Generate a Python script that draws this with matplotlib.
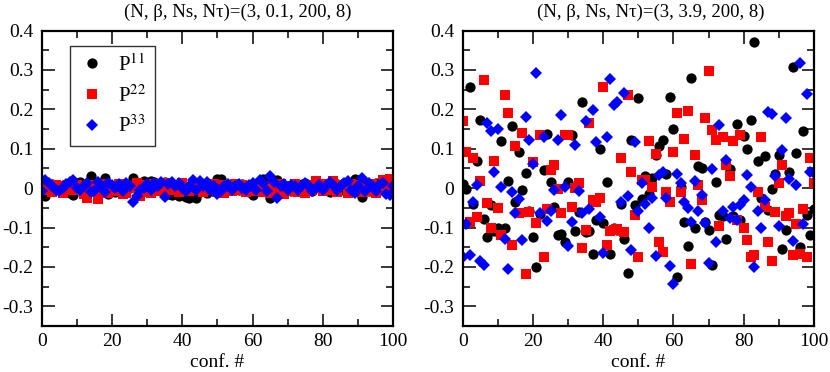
import matplotlib
matplotlib.use('Agg')
import matplotlib.pyplot as plt
import numpy as np

plt.rcParams['font.family'] = ['Liberation Serif', 'DejaVu Serif']
plt.rcParams['mathtext.fontset'] = 'stix'
plt.rcParams['axes.unicode_minus'] = False

conf = np.arange(0, 101)

# beta = 0.1
p11_a = [-0.01, -0.02, 0.005, 0.01, 0.0, -0.005, 0.008, -0.01, -0.012, -0.018,
         0.005, 0.015, -0.005, 0.01, 0.03, 0.01, -0.008, 0.005, 0.025, -0.015,
         0.005, -0.01, 0.008, -0.005, 0.01, 0.0, 0.025, 0.01, -0.005, 0.018,
         0.012, 0.018, 0.015, -0.005, 0.01, 0.015, -0.015, -0.018, -0.012, -0.02,
         -0.015, -0.022, -0.025, -0.018, -0.025, -0.01, 0.005, -0.012, 0.01, 0.012,
         0.022, 0.024, 0.005, -0.005, 0.008, 0.002, -0.005, 0.01, 0.005, -0.01,
         -0.018, 0.01, 0.015, 0.022, 0.01, -0.025, 0.005, 0.02, 0.0, -0.005,
         0.005, -0.008, 0.005, 0.01, -0.005, 0.012, 0.002, -0.008, 0.005, 0.0,
         -0.005, 0.008, -0.01, 0.005, 0.01, -0.005, 0.012, 0.008, -0.01, 0.022,
         0.015, -0.022, 0.005, -0.008, 0.01, 0.012, -0.005, 0.005, 0.01, -0.01,
         0.002]
p22_a = [0.01, -0.005, 0.0, -0.01, 0.008, 0.005, -0.012, 0.002, 0.01, -0.005,
         0.008, 0.0, -0.015, -0.025, -0.01, 0.008, -0.027, -0.005, 0.01, -0.012,
         0.005, -0.008, 0.01, -0.015, -0.012, 0.005, 0.0, 0.012, -0.02, -0.01,
         0.008, -0.012, 0.01, -0.008, 0.005, -0.01, 0.012, -0.005, 0.008, -0.01,
         0.012, 0.0, -0.008, 0.01, -0.005, 0.008, -0.01, 0.005, -0.005, 0.01,
         -0.01, 0.008, -0.012, 0.005, -0.008, 0.01, -0.005, 0.008, -0.01, 0.005,
         0.0, -0.008, 0.01, -0.01, 0.005, -0.012, 0.008, -0.005, 0.01, -0.015,
         0.005, -0.008, 0.01, -0.01, 0.005, -0.012, 0.008, -0.005, 0.018, 0.0,
         -0.008, 0.01, -0.005, 0.018, -0.01, 0.008, 0.005, -0.012, 0.01, -0.005,
         0.008, -0.01, 0.012, -0.008, 0.01, -0.012, 0.005, 0.02, -0.005, 0.022,
         0.01]
p33_a = [-0.008, 0.02, 0.012, 0.005, -0.005, -0.008, 0.0, 0.01, 0.015, 0.02,
         0.0, -0.005, 0.005, 0.012, -0.01, -0.008, 0.015, 0.005, -0.01, 0.012,
         0.008, 0.0, 0.01, -0.008, 0.012, 0.005, -0.035, -0.02, -0.005, 0.0,
         0.01, -0.005, 0.012, 0.005, 0.015, -0.022, 0.01, 0.015, 0.005, 0.012,
         0.0, -0.008, 0.005, 0.02, -0.005, 0.018, 0.005, 0.015, -0.005, 0.005,
         -0.015, -0.008, 0.005, 0.01, -0.005, 0.005, 0.01, 0.0, -0.005, 0.008,
         0.012, -0.005, 0.02, 0.012, -0.008, 0.03, 0.015, -0.025, 0.005, 0.01,
         -0.005, 0.008, 0.005, -0.005, 0.008, 0.012, 0.005, -0.008, 0.0, 0.008,
         -0.005, 0.005, 0.015, 0.008, -0.005, 0.005, 0.012, 0.018, -0.005, -0.012,
         0.005, 0.025, -0.008, 0.012, 0.005, -0.008, 0.008, 0.012, -0.015, -0.018,
         0.005]

# beta = 3.9
p11_b = [0.01, -0.003, 0.257, -0.04, 0.07, 0.172, -0.078, -0.123, -0.044, -0.11,
         -0.1, 0.12, -0.1, 0.018, 0.158, -0.035, 0.092, -0.004, 0.038, -0.057,
         -0.125, -0.2, -0.065, 0.047, 0.138, 0.015, -0.047, -0.12, -0.117, -0.138,
         0.015, 0.136, -0.108, -0.06, 0.22, -0.112, -0.11, -0.166, -0.08, 0.1,
         -0.089, 0.015, -0.166, -0.1, -0.106, -0.04, -0.13, -0.216, 0.122, -0.042,
         0.228, -0.028, 0.031, -0.015, 0.025, 0.085, 0.108, 0.123, 0.036, 0.231,
         0.15, -0.225, 0.004, -0.086, -0.148, 0.28, -0.1, 0.055, 0.051, -0.085,
         -0.106, -0.195, 0.016, -0.068, -0.071, -0.13, 0.049, -0.07, 0.164, -0.08,
         0.133, 0.1, 0.172, 0.371, 0.068, -0.024, 0.082, -0.055, -0.003, 0.036,
         0.085, -0.155, -0.106, 0.042, 0.307, 0.089, -0.15, 0.145, -0.068, -0.119,
         -0.053]
p22_b = [0.17, 0.093, -0.085, 0.076, -0.072, 0.017, 0.274, -0.038, -0.1, 0.07,
         -0.051, -0.12, 0.237, 0.192, -0.144, 0.106, -0.064, 0.14, -0.218, -0.06,
         0.066, -0.089, 0.136, -0.175, -0.053, 0.045, 0.058, -0.003, -0.064, 0.136,
         0.136, -0.048, 0.0, 0.014, -0.153, -0.106, 0.165, -0.03, -0.034, -0.024,
         0.257, -0.144, -0.108, -0.106, -0.104, 0.076, -0.112, 0.236, 0.041, -0.068,
         -0.174, 0.02, 0.021, 0.119, 0.004, 0.086, -0.136, -0.161, -0.011, -0.034,
         0.093, 0.191, -0.011, 0.125, 0.197, -0.193, 0.083, 0.008, -0.031, 0.177,
         0.297, 0.147, 0.123, -0.096, 0.131, 0.058, 0.03, 0.119, -0.08, 0.136,
         -0.1, -0.131, -0.174, -0.17, -0.011, 0.13, -0.048, -0.136, -0.185, -0.061,
         0.014, 0.059, -0.07, -0.062, -0.17, -0.092, -0.167, -0.053, -0.174, 0.076,
         0.014]
p33_b = [-0.175, -0.09, -0.17, -0.034, 0.008, -0.185, -0.195, 0.165, 0.144, 0.042,
         0.151, 0.002, -0.13, -0.206, -0.011, -0.064, -0.027, -0.131, 0.18, 0.121,
         0.061, 0.292, -0.064, 0.131, -0.083, -0.059, -0.004, 0.121, 0.185, 0.004,
         -0.148, -0.085, 0.11, -0.008, -0.064, 0.17, -0.053, 0.199, 0.117, -0.074,
         -0.165, 0.13, 0.277, 0.212, 0.22, -0.034, 0.242, -0.019, -0.158, 0.116,
         -0.057, 0.014, -0.04, -0.1, -0.025, -0.172, 0.034, 0.042, -0.024, -0.197,
         -0.243, 0.036, 0.014, -0.036, -0.051, -0.085, 0.017, -0.058, -0.017, -0.089,
         -0.191, 0.048, -0.136, 0.161, -0.059, 0.072, -0.076, -0.047, -0.08, -0.044,
         -0.031, 0.034, 0.004, -0.201, -0.057, -0.102, -0.03, 0.194, 0.188, 0.03,
         -0.096, 0.097, 0.178, 0.024, -0.133, 0.007, 0.318, -0.092, 0.24, 0.042,
         0.038]

titles = ['(N, \u03b2, Ns, N\u03c4)=(3, 0.1, 200, 8)',
          '(N, \u03b2, Ns, N\u03c4)=(3, 3.9, 200, 8)']
ytick_vals = [-0.3, -0.2, -0.1, 0, 0.1, 0.2, 0.3, 0.4]
ytick_labels = ['-0.3', '-0.2', '-0.1', '0', '0.1', '0.2', '0.3', '0.4']

fig = plt.figure(figsize=(8.3, 3.72), dpi=100)
ax1 = fig.add_axes([0.0502, 0.1237, 0.4236, 0.794])
ax2 = fig.add_axes([0.5575, 0.1237, 0.4232, 0.794])

panels = [(ax1, p11_a, p22_a, p33_a), (ax2, p11_b, p22_b, p33_b)]
for i, (ax, a, b, c) in enumerate(panels):
    ax.plot(conf, a, 'o', color='black', ms=7.4, mew=0, label='P$^{11}$')
    ax.plot(conf, b, 's', color='red', ms=6.7, mew=0, label='P$^{22}$')
    ax.plot(conf, c, 'D', color='blue', ms=6.0, mew=0, label='P$^{33}$')
    ax.set_xlim(0, 100)
    ax.set_ylim(-0.35, 0.4)
    ax.set_xticks(np.arange(0, 101, 20))
    ax.set_xticks(np.arange(10, 100, 20), minor=True)
    ax.set_yticks(ytick_vals)
    ax.set_yticklabels(ytick_labels)
    ax.set_yticks(np.arange(-0.35, 0.41, 0.1), minor=True)
    ax.tick_params(which='both', direction='in', top=True, right=True,
                   labelsize=14, width=1.1)
    ax.tick_params(axis='y', which='major', length=9, pad=6)
    ax.tick_params(axis='x', which='major', length=9, pad=5)
    ax.tick_params(which='minor', length=5)
    for s in ax.spines.values():
        s.set_linewidth(1.6)
    ax.set_xlabel('conf. #', fontsize=14, labelpad=3)

fig.text(0.286, 0.966, titles[0], fontsize=13.5, ha='center', va='center')
fig.text(0.784, 0.966, titles[1], fontsize=13.5, ha='center', va='center')

leg = ax1.legend(loc='upper left', bbox_to_anchor=(0.082, 0.949), fontsize=15,
                 frameon=True, fancybox=False, handletextpad=0.6,
                 borderpad=0.4, labelspacing=0.45, handlelength=1.3,
                 borderaxespad=0, markerscale=1.0)
leg.get_frame().set_edgecolor('black')
leg.get_frame().set_linewidth(1.0)

plt.savefig('out.png', dpi=100)
